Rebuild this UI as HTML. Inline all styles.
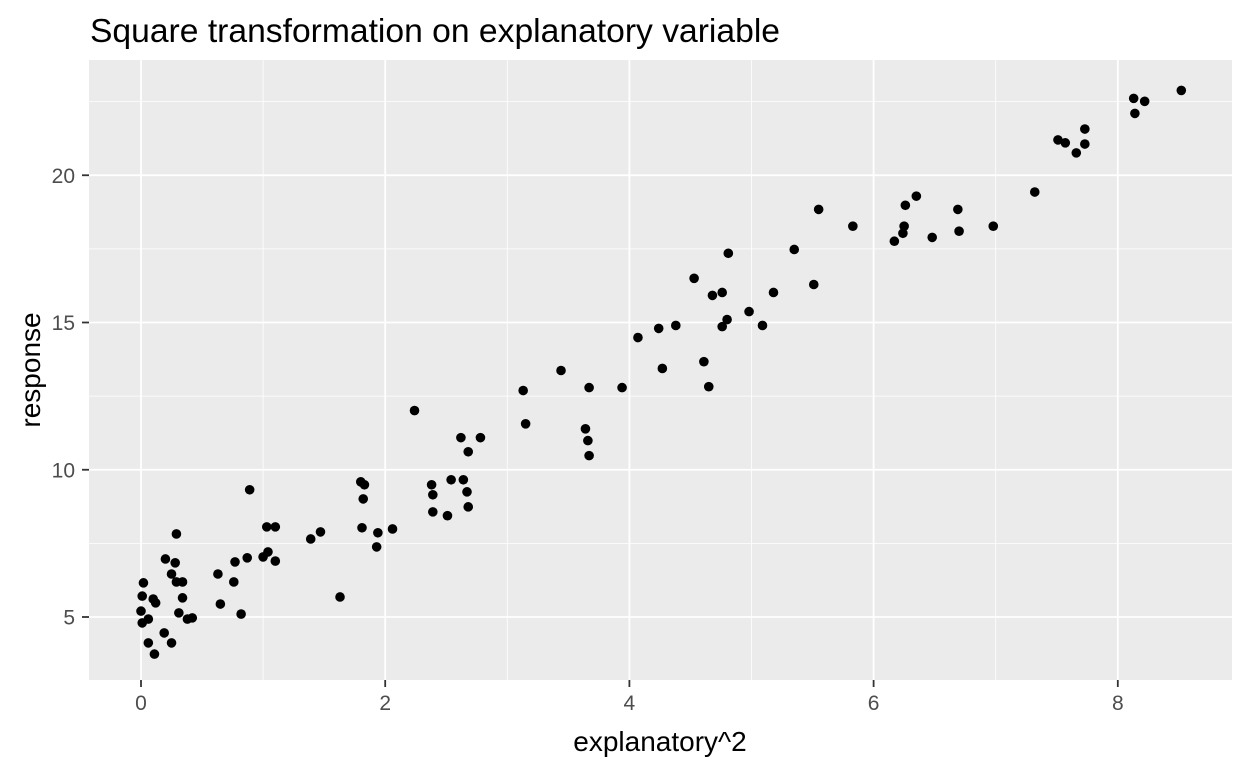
<!DOCTYPE html>
<html><head><meta charset="utf-8"><style>
html,body{margin:0;padding:0;background:#fff;}
svg text{font-family:"Liberation Sans",Arial,sans-serif;}
</style></head><body>
<svg id="chart" width="1248" height="768" xmlns="http://www.w3.org/2000/svg">
<rect width="1248" height="768" fill="#fff"/>
<text x="90" y="42" font-size="33" textLength="690" lengthAdjust="spacingAndGlyphs" fill="#000">Square transformation on explanatory variable</text>
<rect x="89" y="60" width="1143" height="620" fill="#ebebeb"/>
<g id="grid"></g><g id="points"></g><g id="axes"></g>
<text x="660" y="751" font-size="28" text-anchor="middle" fill="#000">explanatory^2</text>
<text transform="translate(40,370) rotate(-90)" font-size="28" text-anchor="middle" fill="#000">response</text>
</svg>
<script>
const xs=[0.01,0.02,0.00,0.01,0.06,0.06,0.10,0.12,0.11,0.19,0.20,0.25,0.25,0.28,0.29,0.29,0.31,0.34,0.34,0.38,0.42,0.63,0.65,0.76,0.77,0.82,0.87,0.89,1.00,1.03,1.04,1.10,1.10,1.39,1.47,1.63,1.80,1.83,1.82,1.81,1.94,1.93,2.06,2.24,2.38,2.39,2.39,2.51,2.54,2.62,2.64,2.67,2.68,2.68,2.78,3.13,3.15,3.44,3.64,3.66,3.67,3.67,3.94,4.07,4.24,4.27,4.38,4.53,4.61,4.65,4.68,4.76,4.76,4.80,4.81,4.98,5.09,5.18,5.35,5.51,5.55,5.83,6.17,6.24,6.25,6.26,6.35,6.48,6.69,6.70,6.98,7.32,7.51,7.57,7.66,7.73,7.73,8.13,8.14,8.22,8.52];
const ys=[5.71,6.16,5.20,4.80,4.93,4.12,5.61,5.48,3.74,4.46,6.97,6.46,4.12,6.84,7.82,6.19,5.14,6.19,5.65,4.93,4.97,6.46,5.44,6.19,6.87,5.10,7.01,9.32,7.04,8.06,7.21,8.06,6.90,7.65,7.89,5.68,9.59,9.49,9.01,8.03,7.86,7.38,7.99,12.01,9.49,9.15,8.57,8.44,9.66,11.09,9.66,9.25,8.74,10.61,11.09,12.69,11.56,13.37,11.39,10.99,10.48,12.79,12.79,14.49,14.80,13.44,14.90,16.50,13.67,12.82,15.92,14.86,16.02,15.10,17.35,15.37,14.90,16.02,17.48,16.29,18.84,18.27,17.76,18.03,18.27,18.98,19.29,17.89,18.84,18.10,18.27,19.43,21.20,21.10,20.76,21.57,21.06,22.61,22.10,22.51,22.88];
const xTicks=[0,2,4,6,8];
const xMinor=[1,3,5,7];
const yTicks=[5,10,15,20];
const yMinor=[7.5,12.5,17.5,22.5];
const L=89,R=1232,T=60,B=680;
const sx=v=>141+v*122.1;
const sy=v=>617-(v-5)*29.45;
const NS="http://www.w3.org/2000/svg";
function mk(t,a,p){const e=document.createElementNS(NS,t);for(const k in a)e.setAttribute(k,a[k]);p.appendChild(e);return e;}
const g=document.getElementById('grid'),pg=document.getElementById('points'),ax=document.getElementById('axes');
xMinor.forEach(v=>{const e=mk('line',{x1:sx(v),x2:sx(v),y1:T,y2:B,stroke:'#fff','stroke-width':0.8},g);

});
yMinor.forEach(v=>{const e=mk('line',{x1:L,x2:R,y1:sy(v),y2:sy(v),stroke:'#fff','stroke-width':0.8},g);

});
xTicks.forEach(v=>{const e=mk('line',{x1:sx(v),x2:sx(v),y1:T,y2:B,stroke:'#fff','stroke-width':1.8},g);


const t=mk('line',{x1:sx(v),x2:sx(v),y1:B,y2:B+7,stroke:'#333','stroke-width':1.8},ax);


const l=mk('text',{x:sx(v),y:B+30,'font-size':21,fill:'#4d4d4d','text-anchor':'middle'},ax);l.textContent=v;

});
yTicks.forEach(v=>{const e=mk('line',{x1:L,x2:R,y1:sy(v),y2:sy(v),stroke:'#fff','stroke-width':1.8},g);


const t=mk('line',{x1:L-7,x2:L,y1:sy(v),y2:sy(v),stroke:'#333','stroke-width':1.8},ax);


const l=mk('text',{x:L-14,y:sy(v)+7.5,'font-size':21,fill:'#4d4d4d','text-anchor':'end'},ax);l.textContent=v;

});
xs.forEach((v,i)=>{const c=mk('circle',{cx:sx(v),cy:sy(ys[i]),r:4.8,fill:'#000'},pg);

});
</script>
</body></html>
